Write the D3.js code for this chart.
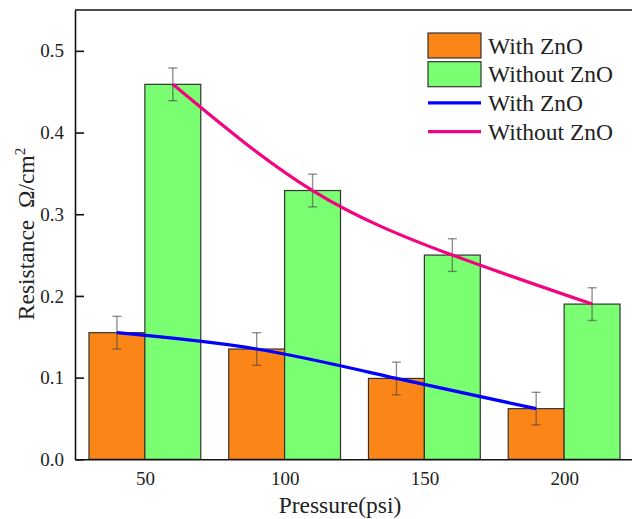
<!DOCTYPE html>
<html>
<head>
<meta charset="utf-8">
<script src="https://cdn.jsdelivr.net/npm/d3@7"></script>
<style>
    html, body { margin: 0; padding: 0; background: #fff; }
    svg { display: block; font-family: "Liberation Serif", "Times New Roman", serif; }
</style>
</head>
<body>
<div id="chart"></div>
<script>
const pressures = [50, 100, 150, 200];
const with_zno = [0.155, 0.135, 0.099, 0.062];
const without_zno = [0.459, 0.329, 0.250, 0.190];
const with_zno_err = [0.02, 0.02, 0.02, 0.02];
const without_zno_err = [0.02, 0.02, 0.02, 0.02];
const y_ticks = [0.0, 0.1, 0.2, 0.3, 0.4, 0.5];

const width = 632;
const height = 519;
const margin = { left: 75, top: 10, right: -2, bottom: 60 };

const colors = {
    with_bar: '#fc8517',
    without_bar: '#7aff72',
    with_line: '#0000ff',
    without_line: '#f2037f',
};

const svg = d3.select('#chart')
    .append('svg')
    .attr('width', width)
    .attr('height', height);

const x = d3.scaleLinear()
    .domain([25, 225])
    .range([margin.left, width - margin.right]);

const y = d3.scaleLinear()
    .domain([0, 0.55])
    .range([height - margin.bottom + 0.3, margin.top]);

const bar_w = 20; // in psi units

// bars
const groups = [
    { key: 'with', values: with_zno, errs: with_zno_err, offset: -bar_w, color: colors.with_bar },
    { key: 'without', values: without_zno, errs: without_zno_err, offset: 0, color: colors.without_bar },
];

groups.forEach(g => {
    svg.append('g')
        .selectAll('rect')
        .data(pressures)
        .enter()
        .append('rect')
        .attr('x', (d) => x(d + g.offset))
        .attr('y', (d, i) => y(g.values[i]))
        .attr('width', x(bar_w) - x(0))
        .attr('height', (d, i) => y(0) - y(g.values[i]))
        .attr('fill', g.color)
        .attr('stroke', '#333')
        .attr('stroke-width', 1.2);
});

// error bars
groups.forEach(g => {
    const eg = svg.append('g')
        .attr('stroke', 'rgba(70,70,70,0.6)')
        .attr('stroke-width', 1.4);
    pressures.forEach((p, i) => {
        const cx = x(p + g.offset + bar_w / 2);
        const hi = y(g.values[i] + g.errs[i]);
        const lo = y(g.values[i] - g.errs[i]);
        eg.append('line').attr('x1', cx).attr('x2', cx).attr('y1', hi).attr('y2', lo);
        eg.append('line').attr('x1', cx - 4.5).attr('x2', cx + 4.5).attr('y1', hi).attr('y2', hi);
        eg.append('line').attr('x1', cx - 4.5).attr('x2', cx + 4.5).attr('y1', lo).attr('y2', lo);
    });
});

// spline lines through bar centres
groups.forEach(g => {
    const line = d3.line()
        .x((d) => x(d + g.offset + bar_w / 2))
        .y((d, i) => y(g.values[i]))
        .curve(d3.curveNatural);
    svg.append('path')
        .datum(pressures)
        .attr('fill', 'none')
        .attr('stroke', g.key === 'with' ? colors.with_line : colors.without_line)
        .attr('stroke-width', 3.2)
        .attr('d', line);
});

// axes
const y_axis = svg.append('g')
    .attr('transform', `translate(${margin.left}, 0)`)
    .call(d3.axisLeft(y)
        .tickValues(y_ticks)
        .tickFormat(d3.format('.1f'))
        .tickSizeInner(-9)
        .tickSizeOuter(0)
        .tickPadding(11));

y_axis.select('.domain').attr('stroke', '#111').attr('stroke-width', 1.6);
y_axis.selectAll('.tick line').attr('stroke', '#111').attr('stroke-width', 1.6);
y_axis.selectAll('.tick text')
    .attr('font-family', '"Liberation Serif", serif')
    .attr('font-size', 19)
    .attr('fill', '#222');

const x_axis = svg.append('g')
    .attr('transform', `translate(0, ${y(0)})`)
    .call(d3.axisBottom(x)
        .tickValues(pressures)
        .tickSizeInner(0)
        .tickSizeOuter(0)
        .tickPadding(12));

x_axis.select('.domain').attr('stroke', '#111').attr('stroke-width', 1.6);
x_axis.selectAll('.tick text')
    .attr('font-family', '"Liberation Serif", serif')
    .attr('font-size', 19)
    .attr('fill', '#222');

// top frame
svg.append('line')
    .attr('x1', margin.left)
    .attr('x2', width + 5)
    .attr('y1', margin.top)
    .attr('y2', margin.top)
    .attr('stroke', '#111')
    .attr('stroke-width', 1.6);

// axis titles
svg.append('text')
    .attr('x', 340)
    .attr('y', 513)
    .attr('text-anchor', 'middle')
    .attr('font-size', 23.5)
    .attr('fill', '#222')
    .text('Pressure(psi)');

const y_title = svg.append('text')
    .attr('transform', `translate(34, 234) rotate(-90)`)
    .attr('text-anchor', 'middle')
    .attr('font-size', 23.5)
    .attr('fill', '#222');
y_title.append('tspan').text('Resistance\u00a0\u00a0Ω/cm');
y_title.append('tspan').attr('dy', -9).attr('font-size', 15).text('2');

// legend
const legend_items = [
    { label: 'With ZnO', type: 'box', color: colors.with_bar },
    { label: 'Without ZnO', type: 'box', color: colors.without_bar },
    { label: 'With ZnO', type: 'line', color: colors.with_line },
    { label: 'Without ZnO', type: 'line', color: colors.without_line },
];

const legend = svg.append('g')
    .selectAll('.legend')
    .data(legend_items)
    .enter()
    .append('g')
    .attr('class', 'legend')
    .attr('transform', (d, i) => `translate(428, ${45.5 + i * 28.7})`);

legend.filter(d => d.type === 'box')
    .append('rect')
    .attr('x', 0)
    .attr('y', -12.5)
    .attr('width', 53)
    .attr('height', 25)
    .attr('fill', d => d.color)
    .attr('stroke', '#333')
    .attr('stroke-width', 1.2);

legend.filter(d => d.type === 'line')
    .append('line')
    .attr('x1', 0)
    .attr('x2', 53)
    .attr('stroke', d => d.color)
    .attr('stroke-width', 3.2);

legend.append('text')
    .attr('x', 60)
    .attr('y', 8)
    .attr('font-size', 23.5)
    .attr('fill', '#222')
    .text(d => d.label);
</script>
</body>
</html>
